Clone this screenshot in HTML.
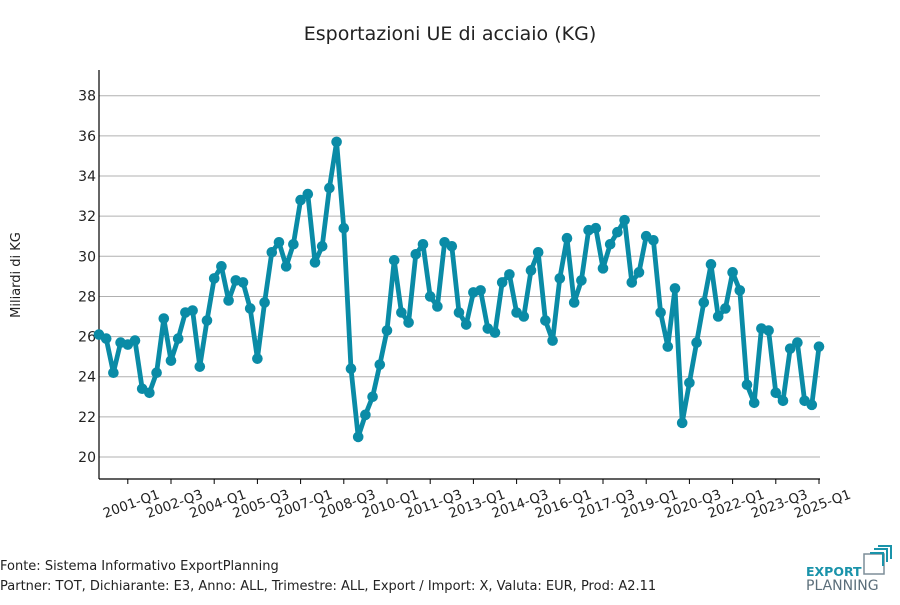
<!DOCTYPE html>
<html><head><meta charset="utf-8"><style>
body{margin:0;background:#fff;}
svg text{font-family:"DejaVu Sans","Liberation Sans",sans-serif;fill:#222;}
</style></head><body>
<svg id="s" width="900" height="600" xmlns="http://www.w3.org/2000/svg">
<text x="450" y="40" font-size="19" text-anchor="middle">Esportazioni UE di acciaio (KG)</text>
<text transform="translate(20,275) rotate(-90)" font-size="13" text-anchor="middle">Miliardi di KG</text>
<g id="grid"></g>
<line x1="99" y1="70" x2="99" y2="479" stroke="#000" stroke-width="1.2"/>
<line x1="99" y1="479" x2="820" y2="479" stroke="#000" stroke-width="1.2"/>
<g id="ticks"></g>
<polyline id="line" fill="none" stroke="#0a8ba6" stroke-width="4.8" stroke-linejoin="round"/>
<g id="dots" fill="#0a8ba6"></g>
<text x="0" y="570" font-size="13">Fonte: Sistema Informativo ExportPlanning</text>
<text x="0" y="590" font-size="13">Partner: TOT, Dichiarante: E3, Anno: ALL, Trimestre: ALL, Export / Import: X, Valuta: EUR, Prod: A2.11</text>
<text x="806" y="576" font-size="12.5" font-weight="bold" style="fill:#1a93aa">EXPORT</text>
<text x="806" y="590" font-size="14" style="fill:#5b6e7a">PLANNING</text>
<rect x="864" y="554" width="20" height="20" fill="none" stroke="#7d8e99" stroke-width="1.5"/>
<path d="M870 553 h13 v13 M874 549 h13 v13 M878 546 h13 v13" fill="none" stroke="#1a93aa" stroke-width="2"/>
</svg>
<script>
var v=[26.1,25.9,24.2,25.7,25.6,25.8,23.4,23.2,24.2,26.9,24.8,25.9,27.2,27.3,24.5,26.8,28.9,29.5,27.8,28.8,28.7,27.4,24.9,27.7,30.2,30.7,29.5,30.6,32.8,33.1,29.7,30.5,33.4,35.7,31.4,24.4,21.0,22.1,23.0,24.6,26.3,29.8,27.2,26.7,30.1,30.6,28.0,27.5,30.7,30.5,27.2,26.6,28.2,28.3,26.4,26.2,28.7,29.1,27.2,27.0,29.3,30.2,26.8,25.8,28.9,30.9,27.7,28.8,31.3,31.4,29.4,30.6,31.2,31.8,28.7,29.2,31.0,30.8,27.2,25.5,28.4,21.7,23.7,25.7,27.7,29.6,27.0,27.4,29.2,28.3,23.6,22.7,26.4,26.3,23.2,22.8,25.4,25.7,22.8,22.6,25.5];
var NS="http://www.w3.org/2000/svg";
function el(t,a,p,txt){var e=document.createElementNS(NS,t);for(var k in a)e.setAttribute(k,a[k]);if(txt)e.textContent=txt;document.getElementById(p).appendChild(e);return e;}
function X(i){return 99+i*7.2;}function Y(y){return 457-(y-20)*20.07;}
for(var g=20;g<=38;g+=2){el('line',{x1:99,x2:820,y1:Y(g),y2:Y(g),stroke:'#b0b0b0','stroke-width':1},'grid');el('text',{x:96,y:Y(g)+5,'font-size':14,'text-anchor':'end'},'grid',g);}
var pts=[];v.forEach(function(y,i){pts.push(X(i)+','+Y(y));el('circle',{cx:X(i),cy:Y(y),r:5.3},'dots');});
document.getElementById('line').setAttribute('points',pts.join(' '));
for(var i=4;i<=100;i+=6){var q=i,yr=2000+Math.floor(q/4),qq=q%4+1;var x=X(i);el('line',{x1:x,x2:x,y1:479,y2:484,stroke:'#000'},'ticks');
el('text',{transform:'translate('+(x+5)+',508) rotate(-20)','font-size':13.5,'text-anchor':'middle'},'ticks',yr+'-Q'+qq);}
</script>
</body></html>
